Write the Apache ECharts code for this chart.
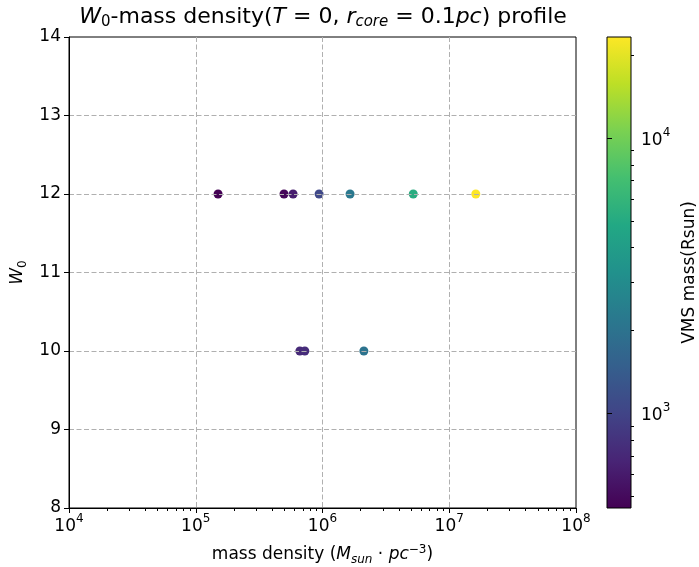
<!DOCTYPE html>
<html>
<head>
<meta charset="utf-8">
<title>W0 mass density profile</title>
<script src="https://cdn.jsdelivr.net/npm/echarts@6/dist/echarts.min.js"></script>
</head>
<body style="margin:0;background:#fff">
<div id="main" style="width:699px;height:567px;"></div>
<script type="text/javascript">
// values
var density = [1.5e5, 4.97e5, 5.86e5, 9.4e5, 1.65e6, 5.2e6, 1.62e7, 6.63e5, 7.25e5, 2.12e6];
var w0 = [12, 12, 12, 12, 12, 12, 12, 10, 10, 10];
var vmsMass = [453, 480, 620, 1050, 2190, 5200, 23300, 725, 745, 2040];
var massMin = 453, massMax = 23300;
var xMajor = [1e4, 1e5, 1e6, 1e7, 1e8];
var cbMajor = [1000, 10000];

var viridis = ['#440154', '#482475', '#414487', '#355f8d', '#2a788e', '#21918c',
               '#22a884', '#44bf70', '#7ad151', '#bddf26', '#fde725'];

var font = 'DejaVu Sans';
var fs = 17;

// minor tick positions (2..9 x 10^k)
var xMinor = [];
for (var k = 4; k < 8; k++) for (var m = 2; m < 10; m++) xMinor.push(m * Math.pow(10, k));
var cbMinor = [];
[100, 1000, 10000].forEach(function (d) {
    for (var m = 2; m < 10; m++) {
        var v = m * d;
        if (v >= massMin && v <= massMax) cbMinor.push(v);
    }
});

var data = density.map(function (d, i) {
    return [d, w0[i], vmsMass[i], Math.log10(vmsMass[i])];
});

function pow10Label(v) {
    return '{b|10}{s|' + Math.round(Math.log10(v)) + '}';
}
var powRich = {
    b: { fontSize: fs, fontFamily: font, color: '#000', lineHeight: 22, verticalAlign: 'bottom' },
    s: { fontSize: 12, fontFamily: font, color: '#000', lineHeight: 14, verticalAlign: 'top' }
};

var stops = viridis.map(function (c, i) { return { offset: i / (viridis.length - 1), color: c }; });

var myChart = echarts.init(document.getElementById('main'));

var option = {
    backgroundColor: '#fff',
    animation: false,
    textStyle: { fontFamily: font },
    grid: [
        { left: 69, top: 37, width: 507, height: 471, show: true, borderColor: '#000', borderWidth: 1,
          outerBoundsMode: 'none', containLabel: false },
        { left: 607, top: 37, width: 24, height: 471, show: true, borderColor: '#000', borderWidth: 1,
          outerBoundsMode: 'none', containLabel: false,
          backgroundColor: { type: 'linear', x: 0, y: 1, x2: 0, y2: 0, colorStops: stops } }
    ],
    visualMap: {
        show: false,
        type: 'continuous',
        seriesIndex: 0,
        dimension: 3,
        min: Math.log10(massMin),
        max: Math.log10(massMax),
        inRange: { color: viridis }
    },
    graphic: [{
        type: 'text',
        x: 323, y: 17,
        style: {
            text: '{i|W}{d|0}{n|-mass density(}{i|T}{n| = 0, }{i|r}{u|core}{n| = 0.1}{i|pc}{n|) profile}',
            align: 'center', verticalAlign: 'middle',
            rich: {
                n: { fontSize: 22, fontFamily: font, fill: '#000', lineHeight: 26 },
                i: { fontSize: 22, fontFamily: font, fontStyle: 'italic', fill: '#000', lineHeight: 26 },
                d: { fontSize: 15, fontFamily: font, fill: '#000', lineHeight: 14, verticalAlign: 'bottom' },
                u: { fontSize: 15, fontFamily: font, fontStyle: 'italic', fill: '#000', lineHeight: 14, verticalAlign: 'bottom' }
            }
        }
    }],
    xAxis: [{
        type: 'log', gridIndex: 0, min: 1e4, max: 1e8, logBase: 10, z: 3,
        position: 'bottom',
        axisLine: { show: true, lineStyle: { color: '#000', width: 1 } },
        axisTick: { show: true, inside: false, length: 5, customValues: xMajor, lineStyle: { color: '#000' } },
        axisLabel: { customValues: xMajor, formatter: pow10Label, rich: powRich, margin: 5 },
        splitLine: { show: true, showMinLine: false, showMaxLine: false,
                     lineStyle: { color: '#b0b0b0', type: [5, 2.5], width: 1 } },
        name: '{n|mass density (}{i|M}{d|sun}{n| · }{i|pc}{u|−3}{n|)}',
        nameLocation: 'middle', nameGap: 36,
        nameTextStyle: {
            rich: {
                n: { fontSize: fs, fontFamily: font, color: '#000', lineHeight: 22 },
                i: { fontSize: fs, fontFamily: font, fontStyle: 'italic', color: '#000', lineHeight: 22 },
                d: { fontSize: 12, fontFamily: font, fontStyle: 'italic', color: '#000', lineHeight: 12, verticalAlign: 'bottom' },
                u: { fontSize: 12, fontFamily: font, color: '#000', lineHeight: 14, verticalAlign: 'top' }
            }
        }
    }, {
        type: 'log', gridIndex: 0, min: 1e4, max: 1e8, logBase: 10, z: 3,
        position: 'bottom',
        axisLine: { show: false },
        axisTick: { show: true, length: 3, customValues: xMinor, lineStyle: { color: '#000' } },
        axisLabel: { show: false },
        splitLine: { show: false }
    }, {
        type: 'value', gridIndex: 1, min: 0, max: 1, show: false
    }],
    yAxis: [{
        type: 'value', gridIndex: 0, min: 8, max: 14, interval: 1, z: 3,
        axisLine: { show: true, lineStyle: { color: '#000', width: 1 } },
        axisTick: { show: true, length: 5, lineStyle: { color: '#000' } },
        axisLabel: { fontSize: fs, color: '#000', fontFamily: font, margin: 8 },
        splitLine: { show: true, showMinLine: false, showMaxLine: false,
                     lineStyle: { color: '#b0b0b0', type: [5, 2.5], width: 1 } },
        name: '{i|W}{d|0}',
        nameLocation: 'middle', nameGap: 40, nameRotate: 90,
        nameTextStyle: {
            rich: {
                i: { fontSize: fs, fontFamily: font, fontStyle: 'italic', color: '#000', lineHeight: 22 },
                d: { fontSize: 12, fontFamily: font, color: '#000', lineHeight: 12, verticalAlign: 'bottom' }
            }
        }
    }, {
        type: 'log', gridIndex: 1, min: massMin, max: massMax, logBase: 10, position: 'right', z: 3,
        axisLine: { show: false },
        axisTick: { show: true, length: 5, customValues: cbMajor, lineStyle: { color: '#000' } },
        axisLabel: { customValues: cbMajor, formatter: pow10Label, rich: powRich, margin: 10 },
        splitLine: { show: false },
        name: 'VMS mass(Rsun)',
        nameLocation: 'middle', nameGap: 50, nameRotate: 90,
        nameTextStyle: { fontSize: fs, fontFamily: font, color: '#000' }
    }, {
        type: 'log', gridIndex: 1, min: massMin, max: massMax, logBase: 10, position: 'right', z: 3,
        axisLine: { show: false },
        axisTick: { show: true, length: 3, customValues: cbMinor, lineStyle: { color: '#000' } },
        axisLabel: { show: false },
        splitLine: { show: false }
    }],
    series: [{
        type: 'scatter',
        xAxisIndex: 0, yAxisIndex: 0,
        symbolSize: 9,
        z: 1,
        itemStyle: { opacity: 1 },
        encode: { x: 0, y: 1 },
        data: data
    }]
};

myChart.setOption(option);
</script>
</body>
</html>
